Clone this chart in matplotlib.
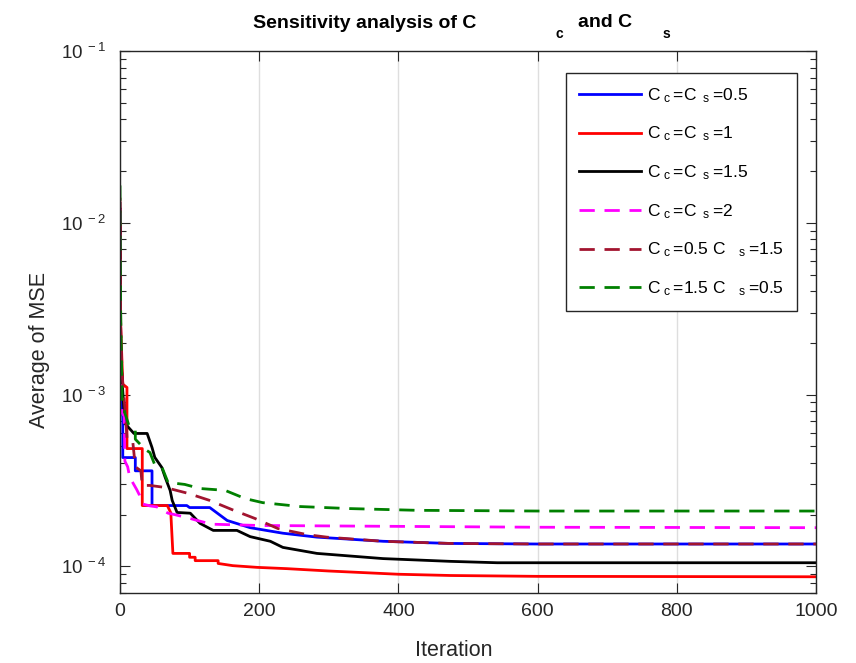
import matplotlib
matplotlib.use('Agg')
import matplotlib.pyplot as plt

plt.rcParams['font.family'] = ['Liberation Sans', 'DejaVu Sans']
plt.rcParams['mathtext.fontset'] = 'custom'
plt.rcParams['mathtext.rm'] = 'Liberation Sans'
plt.rcParams['mathtext.it'] = 'Liberation Sans'
plt.rcParams['mathtext.bf'] = 'Liberation Sans:bold'
plt.rcParams['mathtext.default'] = 'regular'

# ---------------- data ----------------
blue_x = [0, 1, 3, 4, 4, 22, 22, 46, 46, 96, 100, 129, 154, 187, 234, 283, 378, 474, 600, 1000]
blue_y = [1.2e-2, 2.0e-3, 8.0e-4, 7.4e-4, 4.3e-4, 4.3e-4, 3.6e-4, 3.6e-4, 2.26e-4, 2.26e-4,
          2.2e-4, 2.2e-4, 1.85e-4, 1.68e-4, 1.56e-4, 1.48e-4, 1.40e-4, 1.36e-4, 1.35e-4, 1.35e-4]

red_x = [0, 1, 4, 10, 10, 32, 32, 68, 73, 76, 100, 100, 108, 108, 141, 141, 162, 197, 240,
         300, 400, 475, 600, 1000]
red_y = [1.2e-2, 2.5e-3, 1.15e-3, 1.1e-3, 4.85e-4, 4.85e-4, 2.26e-4, 2.26e-4, 2.05e-4, 1.19e-4,
         1.19e-4, 1.13e-4, 1.13e-4, 1.08e-4, 1.08e-4, 1.04e-4, 1.01e-4, 9.87e-5, 9.7e-5,
         9.4e-5, 9.0e-5, 8.85e-5, 8.75e-5, 8.7e-5]

black_x = [0, 1, 3, 7, 20, 39, 46, 50, 60, 65, 72, 75, 82, 101, 111, 115, 129, 134, 168, 187,
           216, 234, 283, 378, 474, 542, 1000]
black_y = [1.3e-2, 2.0e-3, 1.2e-3, 6.8e-4, 5.94e-4, 5.94e-4, 4.92e-4, 4.31e-4, 3.77e-4, 3.29e-4,
           2.77e-4, 2.42e-4, 2.06e-4, 2.04e-4, 1.85e-4, 1.78e-4, 1.66e-4, 1.62e-4, 1.62e-4,
           1.49e-4, 1.40e-4, 1.29e-4, 1.19e-4, 1.11e-4, 1.07e-4, 1.05e-4, 1.05e-4]

magenta_x = [0, 1, 3, 6, 7, 7, 11, 14, 24, 28, 32, 43, 53, 69, 79, 101, 111, 132, 201, 600, 1000]
magenta_y = [1.2e-2, 1.5e-3, 7.8e-4, 7.5e-4, 4.2e-4, 4.1e-4, 3.8e-4, 3.3e-4, 2.8e-4, 2.6e-4,
             2.31e-4, 2.25e-4, 2.22e-4, 2.04e-4, 2.0e-4, 1.9e-4, 1.85e-4, 1.76e-4, 1.73e-4,
             1.69e-4, 1.68e-4]

brown_x = [0, 1, 3, 8, 10, 18, 22, 30, 32, 43, 65, 98, 129, 161, 194, 227, 269, 297, 378, 474,
           600, 1000]
brown_y = [1.4e-2, 2.5e-3, 1.3e-3, 7.5e-4, 5.6e-4, 5.5e-4, 3.8e-4, 3.6e-4, 2.96e-4, 2.96e-4,
           2.88e-4, 2.66e-4, 2.42e-4, 2.14e-4, 1.90e-4, 1.66e-4, 1.53e-4, 1.48e-4, 1.40e-4,
           1.36e-4, 1.35e-4, 1.35e-4]

green_x = [0, 1, 3, 7, 14, 22, 22, 36, 43, 50, 60, 69, 93, 115, 151, 180, 205, 259, 330, 427,
           600, 1000]
green_y = [1.65e-2, 3.0e-3, 9.5e-4, 7.8e-4, 6.4e-4, 6.2e-4, 5.5e-4, 4.8e-4, 4.6e-4, 3.9e-4,
           3.8e-4, 3.08e-4, 3.0e-4, 2.84e-4, 2.77e-4, 2.48e-4, 2.35e-4, 2.23e-4, 2.17e-4,
           2.12e-4, 2.10e-4, 2.10e-4]

labels = [r'C$_{\ c\ }$=C$_{\ \ s\ }$=0.5',
          r'C$_{\ c\ }$=C$_{\ \ s\ }$=1',
          r'C$_{\ c\ }$=C$_{\ \ s\ }$=1.5',
          r'C$_{\ c\ }$=C$_{\ \ s\ }$=2',
          r'C$_{\ c\ }$=0.5 C$_{\quad\ s\ }$=1.5',
          r'C$_{\ c\ }$=1.5 C$_{\quad\ s\ }$=0.5']

x_ticks = [0, 200, 400, 600, 800, 1000]
y_ticks = [1e-4, 1e-3, 1e-2, 1e-1]
y_ticklabels = [r'10$^{\ -4}$', r'10$^{\ -3}$', r'10$^{\ -2}$', r'10$^{\ -1}$']

# ---------------- figure ----------------
W, H = 856, 663
fig = plt.figure(figsize=(W / 100, H / 100), dpi=100)
ax = fig.add_axes([120 / W, 1 - 593 / H, (816 - 120) / W, (593 - 51) / H])

lw = 2.0
dash = (5.5, 3.5)
series = [
    (blue_x, blue_y, '#0000FF', None),
    (red_x, red_y, '#FF0000', None),
    (black_x, black_y, '#000000', None),
    (magenta_x, magenta_y, '#FF00FF', dash),
    (brown_x, brown_y, '#A2142F', dash),
    (green_x, green_y, '#008000', dash),
]
for (xs, ys, c, d), lab in zip(series, labels):
    if d is None:
        ax.plot(xs, ys, color=c, lw=lw, label=lab)
    else:
        ax.plot(xs, ys, color=c, lw=lw, dashes=d, label=lab)

ax.set_yscale('log')
ax.set_xlim(0, 1000)
ax.set_ylim(7e-5, 0.1)
ax.set_xticks(x_ticks)
ax.set_xticklabels([str(t) for t in x_ticks])
ax.set_yticks(y_ticks)
ax.set_yticklabels(y_ticklabels)

axis_col = '#262626'
ax.tick_params(which='both', direction='in', top=True, right=True, colors=axis_col,
               labelcolor=axis_col)
ax.tick_params(which='major', length=7, width=0.8)
ax.tick_params(which='minor', length=4, width=0.8)
ax.tick_params(axis='x', labelsize=14, pad=7)
ax.tick_params(axis='y', labelsize=13.5, pad=10)
ax.tick_params(axis='x', which='minor', bottom=False, top=False)
for s in ax.spines.values():
    s.set_color(axis_col)
    s.set_linewidth(1.0)

ax.xaxis.grid(True, color='#dedede', lw=1.0)
ax.yaxis.grid(False)
ax.set_axisbelow(True)

fig.text(454 / W, 1 - 650 / H, 'Iteration', fontsize=15.5, color=axis_col,
         ha='center', va='center')
fig.text(40 / W, 1 - 350 / H, 'Average of MSE', fontsize=15.5, color=axis_col,
         ha='center', va='center', rotation=90)

# title pieces (as rendered in the reference)
fig.text(253 / W, 1 - 28 / H, 'Sensitivity analysis of C', fontsize=14, fontweight='bold',
         ha='left', va='baseline', color='black')
fig.text(555 / W, 1 - 38 / H, 'c', fontsize=10, fontweight='bold',
         ha='left', va='baseline', color='black')
fig.text(578 / W, 1 - 27 / H, 'and C', fontsize=14, fontweight='bold',
         ha='left', va='baseline', color='black')
fig.text(663 / W, 1 - 38 / H, 's', fontsize=10, fontweight='bold',
         ha='left', va='baseline', color='black')

leg = ax.legend(loc='upper right', bbox_to_anchor=(797 / W, 1 - 73 / H),
                bbox_transform=fig.transFigure, borderaxespad=0, fontsize=12.5,
                handlelength=3.6, handletextpad=0.35, labelspacing=1.15,
                borderpad=0.75, fancybox=False, framealpha=1, edgecolor=axis_col)
leg.get_frame().set_linewidth(1.0)
for t in leg.get_texts():
    t.set_color('black')

fig.savefig('out.png', dpi=100)
